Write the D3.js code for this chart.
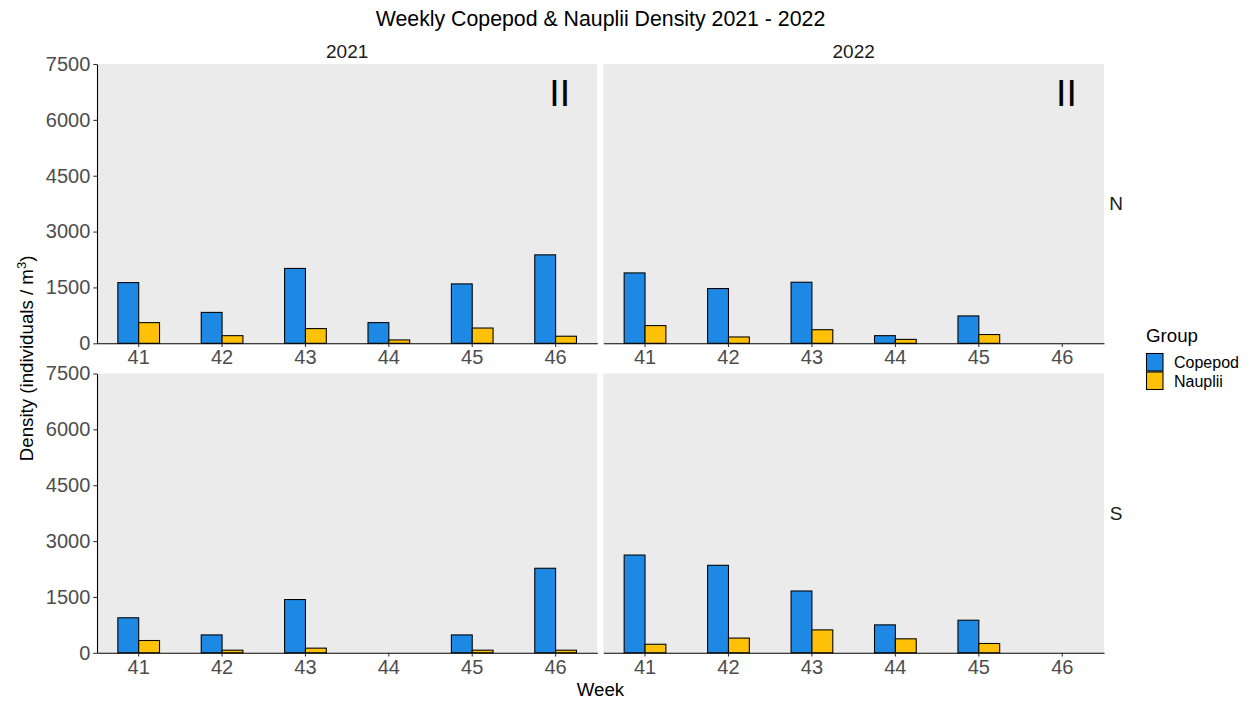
<!DOCTYPE html>
<html>
<head>
<meta charset="utf-8">
<script src="https://cdn.jsdelivr.net/npm/d3@7"></script>
<style>
  html, body { margin: 0; padding: 0; background: #fff; }
  svg { display: block; font-family: "Liberation Sans", Arial, sans-serif; }
</style>
</head>
<body>
<svg id="chart" width="1249" height="703"></svg>
<script>
// Weeks on the x axis, facet columns (year) and facet rows (site)
const weeks = ["41", "42", "43", "44", "45", "46"];
const years = ["2021", "2022"];
const sites = ["N", "S"];
const groups = ["Copepod", "Nauplii"];
const groupColors = ["#1E88E5", "#FFC107"];
const yTicks = [0, 1500, 3000, 4500, 6000, 7500];

// Densities (individuals / m^3); null = no sample that week
const copepod2021N = [1630, 830, 2010, 555, 1595, 2375];
const nauplii2021N = [555, 205, 395, 90, 410, 190];
const copepod2022N = [1890, 1470, 1640, 205, 735, null];
const nauplii2022N = [475, 170, 365, 105, 235, null];
const copepod2021S = [940, 480, 1430, null, 480, 2270];
const nauplii2021S = [330, 70, 125, null, 70, 70];
const copepod2022S = [2625, 2350, 1660, 750, 875, null];
const nauplii2022S = [230, 395, 615, 375, 250, null];

// Site-period marker drawn in the top row
const siteMarker = "II";

const seriesBy = {
  "2021-N": [copepod2021N, nauplii2021N],
  "2022-N": [copepod2022N, nauplii2022N],
  "2021-S": [copepod2021S, nauplii2021S],
  "2022-S": [copepod2022S, nauplii2022S]
};

const svg = d3.select("#chart");
const textCol = "#4d4d4d";
const tickFont = 20;

// Panel geometry
const colX = [[97, 597.3], [603.3, 1104]];
const rowY = [[64, 343.3], [373.5, 652.8]];

const y = rowY.map(([t, b]) => d3.scaleLinear().domain([0, 7500]).range([b, t]));
const x = colX.map(([l, r]) => d3.scaleBand().domain(weeks).range([l, r]).padding(0));

// Title
svg.append("text")
  .attr("x", (colX[0][0] + colX[1][1]) / 2).attr("y", 26)
  .attr("text-anchor", "middle").attr("font-size", 21.3).attr("fill", "#000")
  .text("Weekly Copepod & Nauplii Density 2021 - 2022");

// Column strips
years.forEach((yr, ci) => {
  svg.append("text")
    .attr("x", (colX[ci][0] + colX[ci][1]) / 2).attr("y", 57.5)
    .attr("text-anchor", "middle").attr("font-size", 19).attr("fill", "#1a1a1a")
    .text(yr);
});

// Row strips
sites.forEach((s, ri) => {
  svg.append("text")
    .attr("x", 1116).attr("y", (rowY[ri][0] + rowY[ri][1]) / 2)
    .attr("dy", "0.36em")
    .attr("text-anchor", "middle").attr("font-size", 19).attr("fill", "#1a1a1a")
    .text(s);
});

sites.forEach((site, ri) => {
  years.forEach((yr, ci) => {
    const xs = x[ci], ys = y[ri];
    const [l, r] = colX[ci], [t, b] = rowY[ri];
    const g = svg.append("g");

    g.append("rect")
      .attr("x", l).attr("y", t).attr("width", r - l).attr("height", b - t)
      .attr("fill", "#EBEBEB");

    const dodge = d3.scaleBand().domain(groups).range([0, xs.bandwidth() * 0.5]);
    const off = xs.bandwidth() * 0.25;
    const series = seriesBy[yr + "-" + site];

    groups.forEach((grp, gi) => {
      const data = weeks.map((w, i) => ({ w, v: series[gi][i] })).filter(d => d.v != null);
      g.selectAll(null).data(data).enter().append("rect")
        .attr("x", d => xs(d.w) + off + dodge(grp))
        .attr("y", d => ys(d.v))
        .attr("width", dodge.bandwidth())
        .attr("height", d => ys(0) - ys(d.v))
        .attr("fill", groupColors[gi])
        .attr("stroke", "#000").attr("stroke-width", 1.07);
    });

    // x axis
    const ax = g.append("g").attr("transform", `translate(0,${b})`)
      .call(d3.axisBottom(xs).tickSizeInner(3.7).tickSizeOuter(0).tickPadding(3));
    ax.select(".domain").attr("stroke", "#000").attr("stroke-width", 1.07);
    ax.selectAll(".tick line").attr("stroke", "#333").attr("stroke-width", 1.07);
    ax.selectAll(".tick text").attr("font-size", tickFont).attr("fill", textCol)
      .attr("font-family", "Liberation Sans, Arial, sans-serif");

    // y axis on the left column only
    if (ci === 0) {
      const ay = g.append("g").attr("transform", `translate(${l},0)`)
        .call(d3.axisLeft(ys).tickValues(yTicks).tickFormat(d3.format("d"))
          .tickSizeInner(3.7).tickSizeOuter(0).tickPadding(3));
      ay.select(".domain").attr("stroke", "#000").attr("stroke-width", 1.07);
      ay.selectAll(".tick line").attr("stroke", "#333").attr("stroke-width", 1.07);
      ay.selectAll(".tick text").attr("font-size", tickFont).attr("fill", textCol)
        .attr("font-family", "Liberation Sans, Arial, sans-serif");
    }

    // marker in top row
    if (ri === 0) {
      g.append("text")
        .attr("x", xs("46") + xs.bandwidth() / 2 + xs.bandwidth() * 0.05)
        .attr("y", ys(6740)).attr("dy", "0.36em")
        .attr("text-anchor", "middle").attr("font-size", 37.5).attr("fill", "#000")
        .text(siteMarker);
    }
  });
});

// Axis titles
svg.append("text")
  .attr("x", (colX[0][0] + colX[1][1]) / 2).attr("y", 696)
  .attr("text-anchor", "middle").attr("font-size", 18.7).attr("fill", "#000")
  .text("Week");

const yt = svg.append("text")
  .attr("transform", `translate(33,${(rowY[0][0] + rowY[1][1]) / 2}) rotate(-90)`)
  .attr("text-anchor", "middle").attr("font-size", 18.7).attr("fill", "#000");
yt.append("tspan").text("Density (individuals / m");
yt.append("tspan").attr("font-size", 13).attr("dy", -7).text("3");
yt.append("tspan").attr("dy", 7).text(")");

// Legend
const lg = svg.append("g").attr("transform", "translate(1146,0)");
lg.append("text").attr("x", 0).attr("y", 342).attr("font-size", 18.7).attr("fill", "#000").text("Group");
groups.forEach((grp, i) => {
  lg.append("rect")
    .attr("x", 0.5).attr("y", 353.5 + i * 18.5).attr("width", 16.5).attr("height", 17.5)
    .attr("fill", groupColors[i]).attr("stroke", "#000").attr("stroke-width", 1.07);
  lg.append("text")
    .attr("x", 28).attr("y", 353.5 + i * 18.5 + 8.75).attr("dy", "0.36em")
    .attr("font-size", 16).attr("fill", "#000").text(grp);
});
</script>
</body>
</html>
